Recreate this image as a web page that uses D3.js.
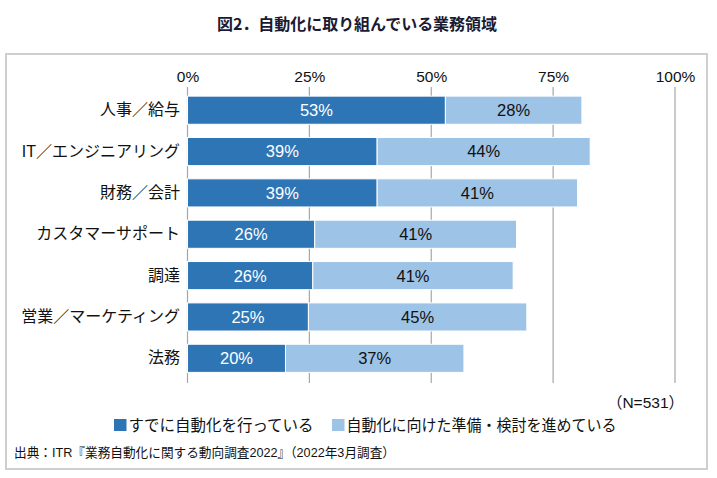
<!DOCTYPE html>
<html><head><meta charset="utf-8">
<script src="https://cdn.jsdelivr.net/npm/d3@7"></script>
<style>
body{margin:0;background:#fff;}
svg text{font-family:"Liberation Sans","Noto Sans CJK JP",sans-serif;}
</style></head>
<body>
<svg id="chart" width="717" height="478"></svg>
<script>
const categories = ["人事／給与","IT／エンジニアリング","財務／会計","カスタマーサポート","調達","営業／マーケティング","法務"];
const doneValues = [52.9, 38.9, 38.9, 26.1, 25.7, 24.8, 20.1];
const prepValues = [28.0, 43.7, 41.1, 41.4, 41.1, 44.8, 36.6];
const seriesNames = ["すでに自動化を行っている","自動化に向けた準備・検討を進めている"];
const tickValues = [0, 25, 50, 75, 100];
const titleText = "図2．自動化に取り組んでいる業務領域";
const noteText = "（N=531）";
const sourceText = "出典：ITR『業務自動化に関する動向調査2022』（2022年3月調査）";
const colors = ["#2E75B6", "#9DC3E6"];

const svg = d3.select("#chart");

// frame
svg.append("rect").attr("x",6).attr("y",54).attr("width",701).attr("height",415)
  .attr("fill","none").attr("stroke","#cfcfcf").attr("stroke-width",2);

// title
svg.append("text").attr("x",217).attr("y",30)
  .attr("font-size",16).attr("font-weight","bold").attr("fill","#1a1a33")
  .attr("textLength",280).attr("lengthAdjust","spacing")
  .style("font-family","'Noto Sans CJK JP',sans-serif").text(titleText);

const x = d3.scaleLinear().domain([0,100]).range([187.5,675]);
const y = d3.scaleBand().domain(categories).range([86,382.5]).paddingInner(0.32).paddingOuter(0.245);

// gridlines
svg.append("g").selectAll("line").data(tickValues).join("line")
  .attr("x1",d=>x(d)).attr("x2",d=>x(d)).attr("y1",87).attr("y2",383)
  .attr("stroke","#a6a6a6").attr("stroke-width",1.2);

// top axis labels
const axis = d3.axisTop(x).tickValues(tickValues).tickFormat(d=>d+"%").tickSize(0).tickPadding(0);
const ag = svg.append("g").attr("transform","translate(0,81.5)").call(axis);
ag.select(".domain").remove();
ag.selectAll("text").attr("font-size",15.5).attr("fill","#111").attr("dy",0)
  .style("font-family","'Liberation Sans',sans-serif");

// category labels
const yAxis = d3.axisLeft(y).tickSize(0).tickPadding(0);
const yg = svg.append("g").attr("transform","translate(180,0)").call(yAxis);
yg.select(".domain").remove();
yg.selectAll("text").attr("font-size",16).attr("fill","#111");

// bars
const rows = categories.map((c,i)=>({cat:c, done:doneValues[i], prep:prepValues[i]}));
const stack = d3.stack().keys(["done","prep"])(rows);
const layers = svg.append("g").selectAll("g").data(stack).join("g")
  .attr("fill",(d,i)=>colors[i]);
layers.selectAll("rect").data(d=>d).join("rect")
  .attr("x",d=>x(d[0])).attr("width",d=>x(d[1])-x(d[0]))
  .attr("y",d=>y(d.data.cat)).attr("height",y.bandwidth())
  .attr("stroke","#ffffff").attr("stroke-width",1);

// value labels
stack.forEach((layer,li)=>{
  svg.append("g").selectAll("text").data(layer).join("text")
    .attr("x",d=>(x(d[0])+x(d[1]))/2)
    .attr("y",d=>y(d.data.cat)+y.bandwidth()/2)
    .attr("dy","0.36em").attr("text-anchor","middle")
    .attr("font-size",16.5).attr("fill",li===0?"#ffffff":"#111")
    .style("font-family","'Liberation Sans',sans-serif")
    .text(d=>Math.round(d[1]-d[0])+"%");
});

// N note
svg.append("text").attr("x",684).attr("y",408).attr("text-anchor","end")
  .attr("font-size",15.5).attr("fill","#111").text(noteText);

// legend
const legendX = [114, 332];
const legendW = [185, 270];
seriesNames.forEach((name,i)=>{
  svg.append("rect").attr("x",legendX[i]).attr("y",419).attr("width",12.5).attr("height",12)
    .attr("fill",colors[i]);
  svg.append("text").attr("x",legendX[i]+14.5).attr("y",430.5)
    .attr("font-size",15.5).attr("fill","#111")
    .attr("textLength",legendW[i]).attr("lengthAdjust","spacingAndGlyphs")
    .style("font-family","'Noto Sans CJK JP',sans-serif").text(name);
});

// source
svg.append("text").attr("x",14).attr("y",456.5).attr("font-size",13).attr("fill","#111")
  .attr("textLength",381).attr("lengthAdjust","spacingAndGlyphs")
  .text(sourceText);
</script>
</body></html>
